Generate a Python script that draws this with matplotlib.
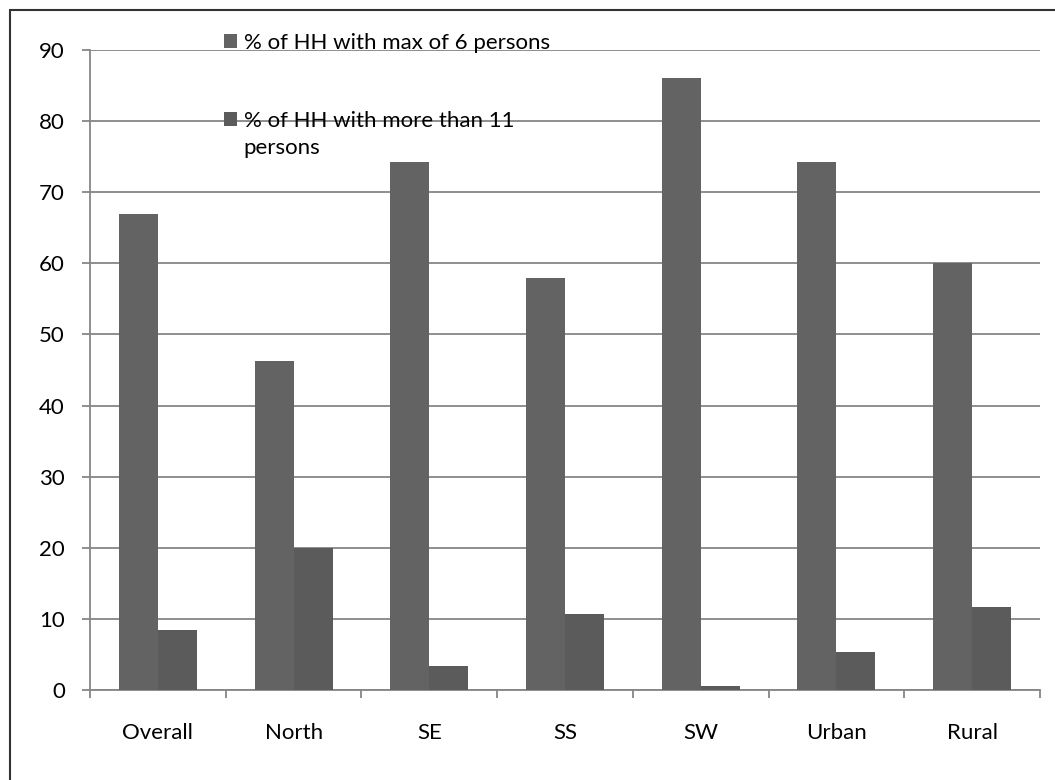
import matplotlib.pyplot as plt
import numpy as np
from matplotlib.patches import Rectangle

plt.rcParams.update({
    'font.family': ['Lato', 'DejaVu Sans'],
    'font.size': 16,
})

categories = ['Overall', 'North', 'SE', 'SS', 'SW', 'Urban', 'Rural']
max6 = [66.9, 46.3, 74.3, 57.9, 86.0, 74.3, 60.0]
more11 = [8.4, 19.9, 3.4, 10.7, 0.5, 5.3, 11.7]
labels = ['% of HH with max of 6 persons', '% of HH with more than 11']

grid_c = '#868686'
fig = plt.figure(figsize=(10.55, 7.8), dpi=100)
ax = fig.add_axes([90/1055, 1-690/780, 950/1055, 640/780])

x = np.arange(len(categories))
w = 0.287
b1 = ax.bar(x - w/2, max6, w, color='#636363', label=labels[0], zorder=3)
b2 = ax.bar(x + w/2, more11, w, color='#5b5b5b', label=labels[1], zorder=3)

ax.set_xlim(-0.5, len(categories) - 0.5)
ax.set_ylim(0, 90)
ax.set_yticks(np.arange(0, 91, 10))
ax.yaxis.grid(True, color=grid_c, linewidth=1.3, zorder=0)
ax.tick_params(axis='y', length=6, color=grid_c, width=1.3, pad=12, labelsize=16)

# category ticks sit between groups, labels at the centres
ax.set_xticks(np.arange(-0.5, len(categories)), minor=False)
ax.set_xticklabels([])
ax.set_xticks(x, minor=True)
ax.set_xticklabels(categories, minor=True, fontsize=16)
ax.tick_params(axis='x', which='major', length=6, color=grid_c, width=1.3)
ax.tick_params(axis='x', which='minor', length=0, pad=24)

for s in ['top', 'right']:
    ax.spines[s].set_visible(False)
for s in ['left', 'bottom']:
    ax.spines[s].set_color(grid_c)
    ax.spines[s].set_linewidth(1.3)

leg = ax.legend(handles=[b1, b2], labels=labels, loc='upper left',
                bbox_to_anchor=(224/1055, 1-33/780), bbox_transform=fig.transFigure,
                frameon=False, fontsize=16, handlelength=0.6, handleheight=0.6,
                handletextpad=0.3, labelspacing=2.6, borderpad=0, borderaxespad=0)
fig.text(243/1055, 1-148/780, 'persons', fontsize=16, va='center', ha='left')

# outer chart border
fig.patches.append(Rectangle((10/1055, -0.05), 1.1, 1-10/780 + 0.05,
                             transform=fig.transFigure, fill=False,
                             edgecolor='#333333', linewidth=1.5))

fig.savefig('out.png', dpi=100)
